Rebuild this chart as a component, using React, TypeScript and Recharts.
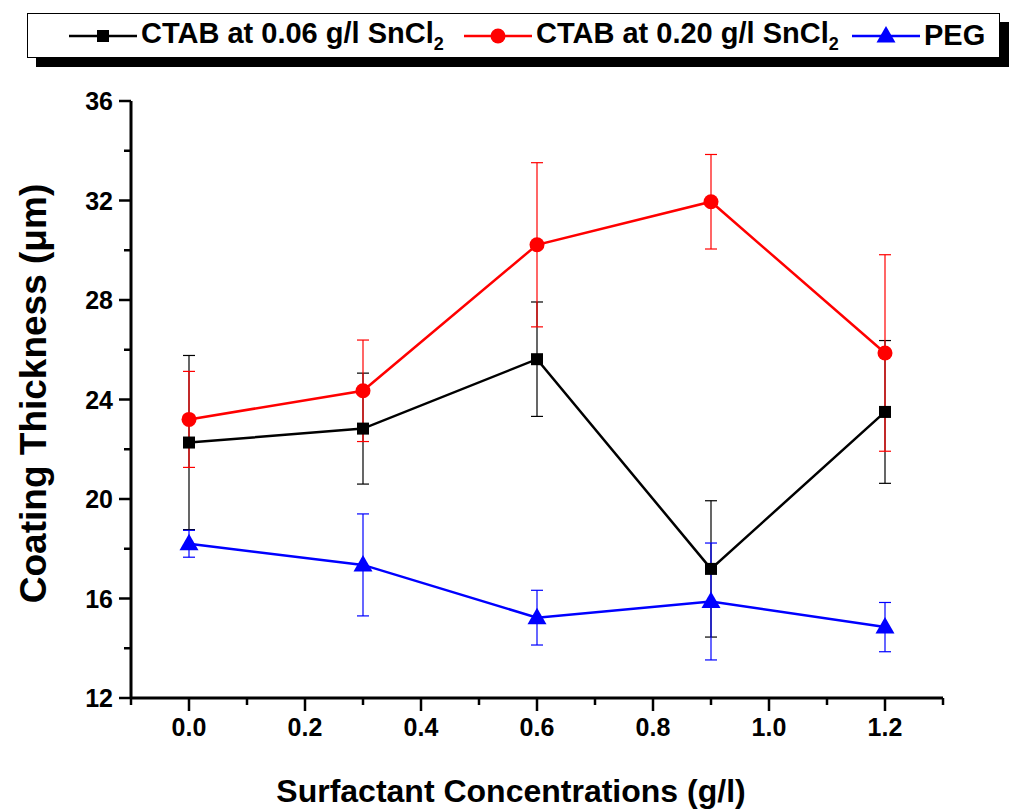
import { LineChart, Line, XAxis, YAxis, ErrorBar } from 'recharts';

const CONCENTRATIONS = [0, 0.3, 0.6, 0.9, 1.2];

const CTAB_LOW = [22.27, 22.83, 25.62, 17.19, 23.5];
const CTAB_LOW_ERR = [3.5, 2.23, 2.3, 2.74, 2.87];

const CTAB_HIGH = [23.2, 24.35, 30.22, 31.95, 25.87];
const CTAB_HIGH_ERR = [1.93, 2.04, 3.3, 1.9, 3.95];

const PEG = [18.2, 17.35, 15.23, 15.88, 14.85];
const PEG_ERR = [0.54, 2.05, 1.1, 2.35, 0.99];

const X_TICKS = [-0.1, 0, 0.1, 0.2, 0.3, 0.4, 0.5, 0.6, 0.7, 0.8, 0.9, 1.0, 1.1, 1.2, 1.3];
const X_MAJOR = [0, 0.2, 0.4, 0.6, 0.8, 1.0, 1.2];
const Y_TICKS = [12, 14, 16, 18, 20, 22, 24, 26, 28, 30, 32, 34, 36];
const Y_MAJOR = [12, 16, 20, 24, 28, 32, 36];

const FONT = '"Liberation Sans", Arial, sans-serif';

const data = CONCENTRATIONS.map((c, i) => ({
  conc: c,
  ctabLow: CTAB_LOW[i],
  ctabLowErr: CTAB_LOW_ERR[i],
  ctabHigh: CTAB_HIGH[i],
  ctabHighErr: CTAB_HIGH_ERR[i],
  peg: PEG[i],
  pegErr: PEG_ERR[i],
}));

const isMajor = (list: number[], v: number) => list.some((m) => Math.abs(m - v) < 1e-6);

function SquareDot({ cx, cy }: any) {
  return <rect x={cx - 6} y={cy - 6} width={12} height={12} fill="#000" />;
}

function CircleDot({ cx, cy }: any) {
  return <circle cx={cx} cy={cy} r={7.5} fill="#ff0000" />;
}

function TriangleDot({ cx, cy }: any) {
  return (
    <polygon
      points={`${cx},${cy - 10} ${cx - 9.5},${cy + 6.5} ${cx + 9.5},${cy + 6.5}`}
      fill="#0000ff"
    />
  );
}

function XTick({ x, y, payload }: any) {
  const v = payload.value;
  const major = isMajor(X_MAJOR, v);
  return (
    <g>
      <line x1={x} x2={x} y1={y} y2={y + (major ? 13 : 7)} stroke="#000" strokeWidth={2.5} />
      {major && (
        <text x={x} y={y + 38} textAnchor="middle" fontSize={25} fontWeight="bold" fill="#000" fontFamily={FONT}>
          {v.toFixed(1)}
        </text>
      )}
    </g>
  );
}

function YTick({ x, y, payload }: any) {
  const v = payload.value;
  const major = isMajor(Y_MAJOR, v);
  return (
    <g>
      <line x1={x} x2={x - (major ? 12 : 7)} y1={y} y2={y} stroke="#000" strokeWidth={2.5} />
      {major && (
        <text x={x - 18} y={y} dy="0.36em" textAnchor="end" fontSize={25} fontWeight="bold" fill="#000" fontFamily={FONT}>
          {v}
        </text>
      )}
    </g>
  );
}

const SERIES = [
  { key: 'ctabLow', err: 'ctabLowErr', color: '#000000', label: 'CTAB at 0.06 g/l SnCl', sub: '2', dot: SquareDot },
  { key: 'ctabHigh', err: 'ctabHighErr', color: '#ff0000', label: 'CTAB at 0.20 g/l SnCl', sub: '2', dot: CircleDot },
  { key: 'peg', err: 'pegErr', color: '#0000ff', label: 'PEG', sub: '', dot: TriangleDot },
];

const LEGEND_LEFT = [41, 436, 824];

function LegendBox() {
  return (
    <div
      style={{
        position: 'absolute',
        left: 27,
        top: 13,
        width: 971,
        height: 43,
        border: '1.5px solid #000',
        background: '#fff',
        boxShadow: '9px 9px 0 #000',
        fontFamily: FONT,
      }}
    >
      {SERIES.map((s, i) => {
        const Dot = s.dot;
        return (
          <div
            key={s.key}
            style={{ position: 'absolute', left: LEGEND_LEFT[i], top: 0, height: 43, display: 'flex', alignItems: 'center' }}
          >
            <svg width={68} height={24}>
              <line x1={0} x2={68} y1={12} y2={12} stroke={s.color} strokeWidth={2.5} />
              <Dot cx={34} cy={12} />
            </svg>
            <span style={{ marginLeft: 4, fontSize: 29, fontWeight: 'bold', color: '#000', whiteSpace: 'nowrap' }}>
              {s.label}
              {s.sub && <sub style={{ fontSize: 18 }}>{s.sub}</sub>}
            </span>
          </div>
        );
      })}
    </div>
  );
}

export default function App() {
  return (
    <div style={{ position: 'absolute', left: 0, top: 0, width: 1009, height: 809, background: '#fff', fontFamily: FONT }}>
      <LineChart width={1009} height={809} data={data} margin={{ top: 101, right: 66, left: 0, bottom: 0 }}>
        <XAxis
          dataKey="conc"
          type="number"
          domain={[-0.1, 1.3]}
          ticks={X_TICKS}
          interval={0}
          height={111}
          tickSize={0}
          tickMargin={0}
          tick={<XTick />}
          axisLine={{ stroke: '#000', strokeWidth: 3 }}
          label={{
            content: ({ viewBox }: any) => (
              <text
                x={viewBox.x + viewBox.width / 2 - 26}
                y={viewBox.y + 104}
                textAnchor="middle"
                fontSize={32}
                fontWeight="bold"
                fill="#000"
                fontFamily={FONT}
              >
                Surfactant Concentrations (g/l)
              </text>
            ),
          }}
        />
        <XAxis xAxisId="top" orientation="top" type="number" domain={[-0.1, 1.3]} dataKey="conc" height={0} tick={false} tickLine={false} axisLine={{ stroke: '#000', strokeWidth: 3 }} />
        <YAxis
          type="number"
          domain={[12, 36]}
          ticks={Y_TICKS}
          interval={0}
          width={131}
          tickSize={0}
          tickMargin={0}
          tick={<YTick />}
          axisLine={{ stroke: '#000', strokeWidth: 3 }}
          label={{
            content: ({ viewBox }: any) => {
              const cx = viewBox.x + 33;
              const cy = viewBox.y + viewBox.height / 2 - 6;
              return (
                <text
                  x={cx}
                  y={cy}
                  transform={`rotate(-90 ${cx} ${cy})`}
                  textAnchor="middle"
                  dominantBaseline="central"
                  fontSize={37}
                  fontWeight="bold"
                  fill="#000"
                  fontFamily={FONT}
                >
                  Coating Thickness (μm)
                </text>
              );
            },
          }}
        />
        <YAxis yAxisId="right" orientation="right" type="number" domain={[12, 36]} width={0} tick={false} tickLine={false} axisLine={{ stroke: '#000', strokeWidth: 3 }} />
        {SERIES.map((s) => {
          const Dot = s.dot;
          return (
            <Line
              key={s.key}
              type="linear"
              dataKey={s.key}
              stroke={s.color}
              strokeWidth={2.5}
              dot={(p: any) => <Dot key={`${s.key}-${p.index}`} cx={p.cx} cy={p.cy} />}
              activeDot={false}
              isAnimationActive={false}
            >
              <ErrorBar dataKey={s.err} direction="y" width={6} stroke={s.color} strokeWidth={1.2} />
            </Line>
          );
        })}
      </LineChart>
      <LegendBox />
    </div>
  );
}
